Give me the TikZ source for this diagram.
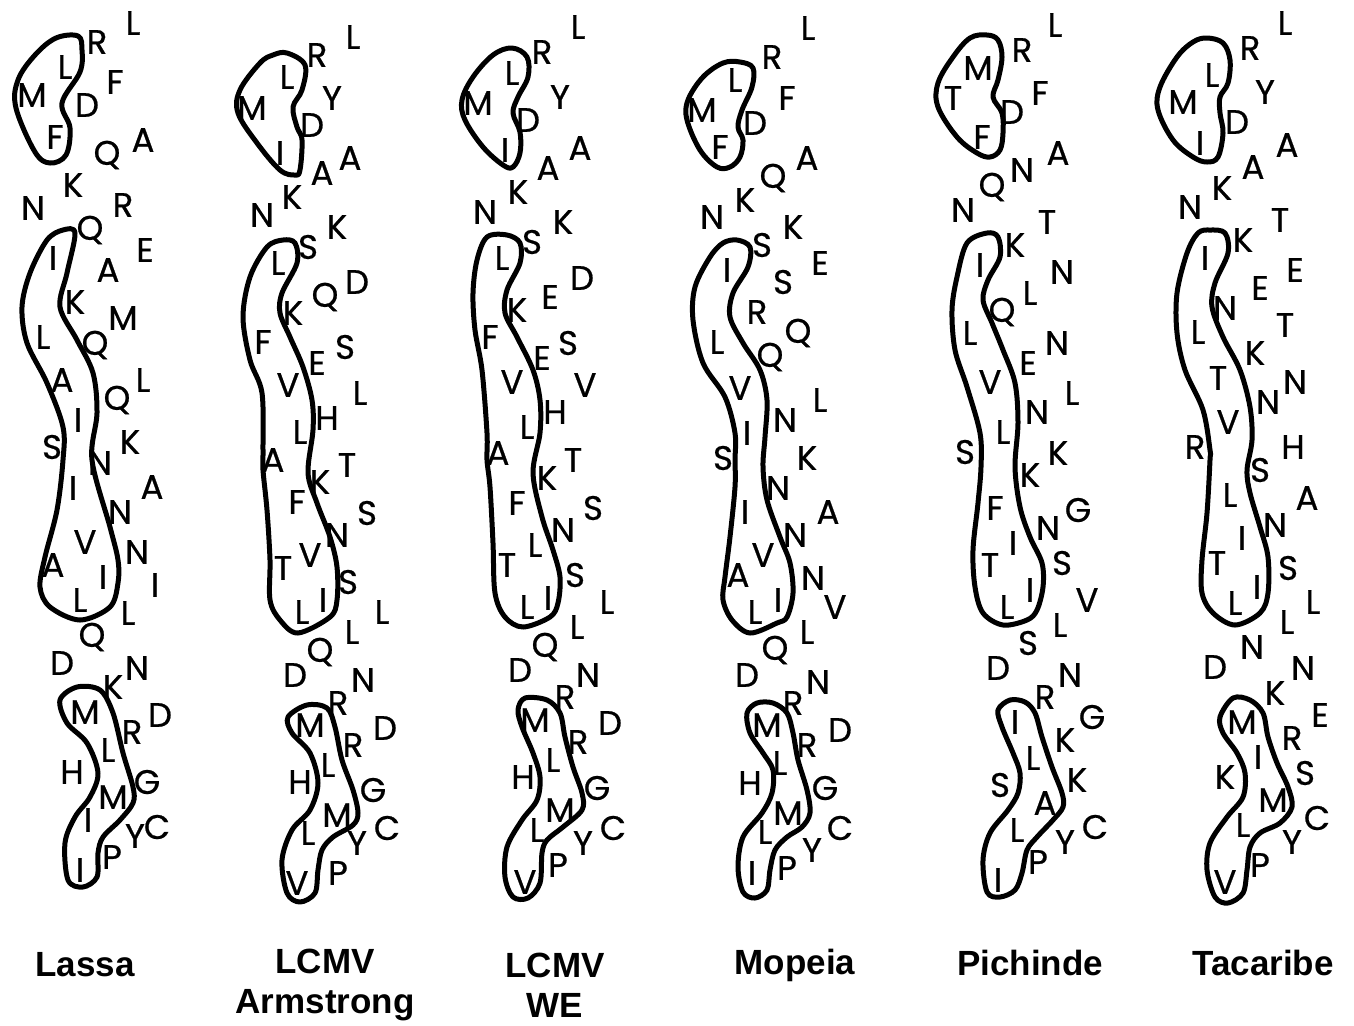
\documentclass[tikz,border=0pt]{standalone}
\usepackage{fontspec}
\newfontfamily\letf[FakeBold=0.6]{Poppins}
\newfontfamily\labf{Liberation Sans}
\tikzset{
  lt/.style={font=\letf\fontsize{17}{17}\selectfont, inner sep=0pt, anchor=center},
  blob/.style={line width=2.5pt, line join=round},
  lab/.style={font=\labf\bfseries\fontsize{17.5}{20}\selectfont, align=center, inner sep=0pt}
}
\begin{document}
\begin{tikzpicture}[x=0.5pt,y=-0.5pt]
\useasboundingbox (0,0) rectangle (1354,1025);
% ---------------- Lassa
\draw[blob] plot[smooth cycle, tension=0.6] coordinates {(56,38) (78,36) (82,50) (80,72) (62,103) (70,128) (66,155) (50,163) (35,152) (16,108) (18,80) (35,55)};
\draw[blob] plot[smooth cycle, tension=0.55] coordinates {(63,230) (75,233) (67,273) (60,307) (77,340) (93,373) (97,413) (92,460) (110,527) (118,560) (118,583) (110,607) (80,620) (50,607) (40,587) (45,557) (57,510) (63,460) (63,427) (47,383) (27,343) (22,307) (30,273) (47,240)};
\draw[blob] plot[smooth cycle, tension=0.55] coordinates {(77,687) (100,690) (113,713) (123,753) (133,787) (133,803) (120,820) (103,837) (98,853) (97,877) (83,887) (68,880) (65,843) (75,817) (90,797) (98,773) (87,743) (67,723) (60,700)};
\foreach \t/\x/\y [count=\i] in {L/133/23, R/97/42, L/65/67, F/115/82, M/32/95, D/87/105, F/55/137, A/143/140, Q/107/155, K/73/185, N/33/208, R/123/205, Q/90/230, E/145/250, I/53/258, A/108/270, K/75/302, M/123/318, L/43/337, Q/95/345, A/62/380, L/143/380, Q/117/400, I/78/420, K/130/442, S/52/447, N/100/463, A/152/487, I/73/488, N/120/512, V/85/542, N/137/552, A/53/565, I/103/577, I/155/585, L/80/600, L/128/613, Q/92/637, D/62/663, N/137/668, K/113/687, M/85/712, D/160/715, R/132/732, L/108/750, H/72/772, G/147/782, M/113/797, I/88/820, Y/135/836, C/157/827, P/112/857, I/80/870}
  \node[lt] (la\i) at (\x,\y) {\t};
\node[lab] (labLassa) at (85,965) {Lassa};
% ---------------- LCMV Armstrong
\draw[blob] plot[smooth cycle, tension=0.6] coordinates {(287,53) (305,65) (302,90) (293,107) (297,127) (302,140) (300,170) (295,175) (280,170) (257,143) (238,113) (240,90) (260,63) (273,55)};
\draw[blob] plot[smooth cycle, tension=0.55] coordinates {(283,240) (295,243) (297,263) (282,293) (280,313) (290,337) (303,367) (312,400) (313,430) (308,473) (317,503) (330,537) (337,567) (337,600) (330,617) (298,633) (280,620) (270,600) (270,560) (267,510) (263,470) (263,450) (262,393) (250,360) (243,317) (250,277) (267,247)};
\draw[blob] plot[smooth cycle, tension=0.55] coordinates {(307,705) (327,708) (335,727) (342,760) (353,790) (358,813) (353,825) (333,837) (322,850) (318,870) (315,893) (300,902) (287,893) (282,860) (292,830) (310,810) (318,783) (310,753) (292,733) (288,717)};
\foreach \t/\x/\y [count=\i] in {L/353/37, R/317/55, L/287/77, Y/332/98, M/252/108, D/312/125, I/280/153, A/350/158, A/322/173, K/292/197, N/262/215, K/337/227, S/308/247, L/278/263, D/357/282, Q/325/297, K/293/313, F/263/342, S/345/347, E/317/363, V/288/385, L/360/393, H/327/418, L/300/432, A/273/460, T/347/465, K/320/482, F/297/502, S/367/513, N/337/535, V/310/555, T/283/568, S/348/582, I/323/600, L/302/612, L/382/612, L/352/632, Q/320/652, D/295/675, N/363/680, R/338/703, M/310/725, D/385/728, R/353/745, L/328/765, H/300/782, G/373/790, M/337/815, C/387/828, L/308/833, Y/357/843, P/338/873, V/297/883}
  \node[lt] (lb\i) at (\x,\y) {\t};
\node[lab] (labArm) at (325,985) {LCMV\\Armstrong};
% ---------------- LCMV WE
\draw[blob] plot[smooth cycle, tension=0.6] coordinates {(512,48) (527,57) (528,77) (518,97) (513,113) (520,132) (520,153) (513,167) (503,165) (483,147) (465,120) (462,100) (473,77) (493,55)};
\draw[blob] plot[smooth cycle, tension=0.55] coordinates {(507,235) (520,243) (520,263) (507,290) (505,313) (517,337) (533,370) (540,400) (540,433) (533,473) (542,517) (553,550) (560,577) (558,603) (550,617) (523,627) (505,617) (495,593) (493,543) (490,487) (487,460) (487,433) (482,370) (475,330) (473,293) (477,260) (487,237)};
\draw[blob] plot[smooth cycle, tension=0.55] coordinates {(525,698) (547,700) (560,713) (565,737) (573,767) (582,793) (582,810) (563,827) (547,840) (542,853) (540,883) (528,898) (513,897) (505,877) (507,847) (522,820) (537,800) (540,777) (533,753) (522,727) (518,710)};
\foreach \t/\x/\y [count=\i] in {L/578/27, R/542/52, L/512/73, Y/560/97, M/478/103, D/528/120, A/580/148, I/505/150, A/548/168, K/518/192, N/485/212, K/563/222, S/532/242, L/502/258, D/582/278, E/550/297, K/517/310, F/490/337, S/568/343, E/542/358, V/512/382, V/585/385, H/555/412, L/527/427, A/498/453, T/573/460, K/547/478, F/517/503, S/593/508, N/563/530, L/535/545, T/507/565, S/575/575, I/548/598, L/527/607, L/607/602, L/577/627, Q/545/647, D/520/670, N/588/675, R/565/697, M/535/720, D/610/723, R/578/742, L/553/760, H/523/777, G/597/788, M/560/810, C/613/828, L/537/830, Y/583/843, P/558/865, V/525/882}
  \node[lt] (lc\i) at (\x,\y) {\t};
\node[lab] (labWE) at (555,985) {LCMV\\WE};
% ---------------- Mopeia
\draw[blob] plot[smooth cycle, tension=0.6] coordinates {(740,62) (753,68) (752,87) (742,110) (738,127) (743,140) (740,157) (730,167) (717,167) (700,150) (687,120) (688,100) (703,77) (723,63)};
\draw[blob] plot[smooth cycle, tension=0.55] coordinates {(737,240) (750,247) (748,267) (733,293) (730,317) (743,343) (760,370) (767,400) (765,437) (763,467) (767,500) (780,537) (790,563) (793,593) (787,617) (777,623) (750,633) (732,620) (723,600) (725,577) (730,537) (735,487) (735,460) (735,433) (725,397) (703,363) (693,320) (695,287) (710,257) (723,243)};
\draw[blob] plot[smooth cycle, tension=0.55] coordinates {(757,703) (773,703) (787,713) (793,733) (798,760) (807,790) (810,813) (802,827) (787,837) (775,850) (770,870) (767,890) (755,898) (743,892) (738,867) (743,837) (762,813) (772,793) (773,770) (763,753) (750,733) (747,713)};
\foreach \t/\x/\y [count=\i] in {L/808/28, R/772/57, L/735/80, F/787/98, M/702/110, D/755/123, F/720/147, A/807/158, Q/773/178, K/745/200, N/712/217, K/793/227, S/762/245, E/820/263, I/727/270, S/783/282, R/757/312, Q/798/333, L/717/342, Q/770/357, V/740/388, L/820/400, N/785/420, I/747/433, K/807/458, S/723/458, N/778/488, A/828/512, I/745/512, N/795/535, V/763/555, A/738/575, N/813/578, I/778/600, V/835/607, L/755/612, L/807/632, Q/775/650, D/747/675, N/818/682, R/793/703, M/767/725, D/840/730, R/807/745, L/780/763, H/750/783, G/825/788, M/788/813, C/840/828, L/765/832, Y/812/850, P/787/868, I/752/873}
  \node[lt] (ld\i) at (\x,\y) {\t};
\node[lab] (labMop) at (795,965) {Mopeia};
% ---------------- Pichinde
\draw[blob] plot[smooth cycle, tension=0.6] coordinates {(987,35) (998,40) (1002,57) (998,80) (993,97) (1002,113) (1003,133) (1000,150) (990,157) (977,153) (957,137) (938,107) (938,83) (953,57) (970,38)};
\draw[blob] plot[smooth cycle, tension=0.55] coordinates {(987,233) (998,237) (1000,257) (988,280) (983,300) (992,323) (1003,350) (1015,383) (1018,423) (1015,467) (1020,507) (1030,537) (1042,563) (1043,587) (1037,610) (1027,620) (1003,625) (983,613) (975,587) (973,550) (978,503) (981,467) (980,433) (967,387) (955,350) (952,310) (957,277) (967,243)};
\draw[blob] plot[smooth cycle, tension=0.55] coordinates {(1010,700) (1025,702) (1035,713) (1042,737) (1052,767) (1062,793) (1063,807) (1053,820) (1037,837) (1027,850) (1022,873) (1015,890) (1000,897) (987,892) (983,860) (990,833) (1008,810) (1018,793) (1020,773) (1013,753) (1002,727) (998,710)};
\foreach \t/\x/\y [count=\i] in {L/1055/25, R/1022/50, M/978/68, F/1040/93, T/953/98, D/1012/112, F/982/137, A/1058/153, N/1022/170, Q/992/187, N/963/210, T/1047/222, K/1015/245, I/980/265, N/1062/272, L/1030/293, Q/1002/312, L/970/333, N/1057/343, E/1028/363, V/990/382, L/1072/393, N/1037/412, L/1003/432, K/1058/453, S/965/452, K/1030/475, F/995/508, G/1078/510, N/1048/528, I/1013/543, S/1062/563, T/990/565, I/1030/590, V/1087/600, L/1007/607, L/1060/625, S/1028/643, D/998/668, N/1070/675, R/1045/697, G/1092/717, I/1015/722, K/1065/740, L/1033/758, K/1077/780, S/1000/785, A/1045/803, C/1095/827, L/1017/830, Y/1065/842, P/1038/862, I/998/880}
  \node[lt] (le\i) at (\x,\y) {\t};
\node[lab] (labPich) at (1030,963) {Pichinde};
% ---------------- Tacaribe
\draw[blob] plot[smooth cycle, tension=0.6] coordinates {(1207,38) (1223,43) (1230,60) (1228,83) (1220,97) (1220,113) (1223,133) (1218,157) (1207,162) (1193,157) (1173,140) (1158,110) (1160,87) (1177,57) (1193,42)};
\draw[blob] plot[smooth cycle, tension=0.55] coordinates {(1210,230) (1225,233) (1228,253) (1215,283) (1212,307) (1223,337) (1240,370) (1250,407) (1252,440) (1247,470) (1250,493) (1260,527) (1268,557) (1268,593) (1260,613) (1235,625) (1213,613) (1202,593) (1202,560) (1207,513) (1210,460) (1210,450) (1203,410) (1185,370) (1177,333) (1177,293) (1187,253) (1198,233)};
\draw[blob] plot[smooth cycle, tension=0.55] coordinates {(1233,698) (1250,700) (1263,713) (1268,737) (1277,763) (1288,787) (1292,807) (1280,823) (1260,833) (1250,847) (1247,870) (1243,893) (1228,903) (1215,897) (1207,870) (1210,843) (1227,817) (1243,797) (1245,773) (1237,753) (1223,733) (1220,717)};
\foreach \t/\x/\y [count=\i] in {L/1285/23, R/1250/48, L/1212/75, Y/1265/92, M/1183/102, D/1237/122, I/1200/143, A/1287/145, A/1253/167, K/1222/188, N/1190/207, T/1280/220, K/1243/240, I/1205/258, E/1295/270, E/1260/288, N/1225/308, T/1285/325, L/1198/332, K/1255/353, T/1218/378, N/1295/382, N/1268/402, V/1228/422, R/1195/447, H/1293/447, S/1260/470, L/1230/495, A/1307/498, N/1275/525, I/1242/538, T/1217/563, S/1288/568, I/1257/587, L/1313/602, L/1235/603, L/1287/622, N/1252/647, D/1215/667, N/1303/668, K/1275/693, E/1320/715, M/1242/722, R/1292/738, I/1258/757, S/1305/773, K/1225/777, M/1273/800, C/1317/818, L/1243/825, Y/1292/842, P/1260/865, V/1225/882}
  \node[lt] (lf\i) at (\x,\y) {\t};
\node[lab] (labTac) at (1263,963) {Tacaribe};
\end{tikzpicture}
\end{document}
